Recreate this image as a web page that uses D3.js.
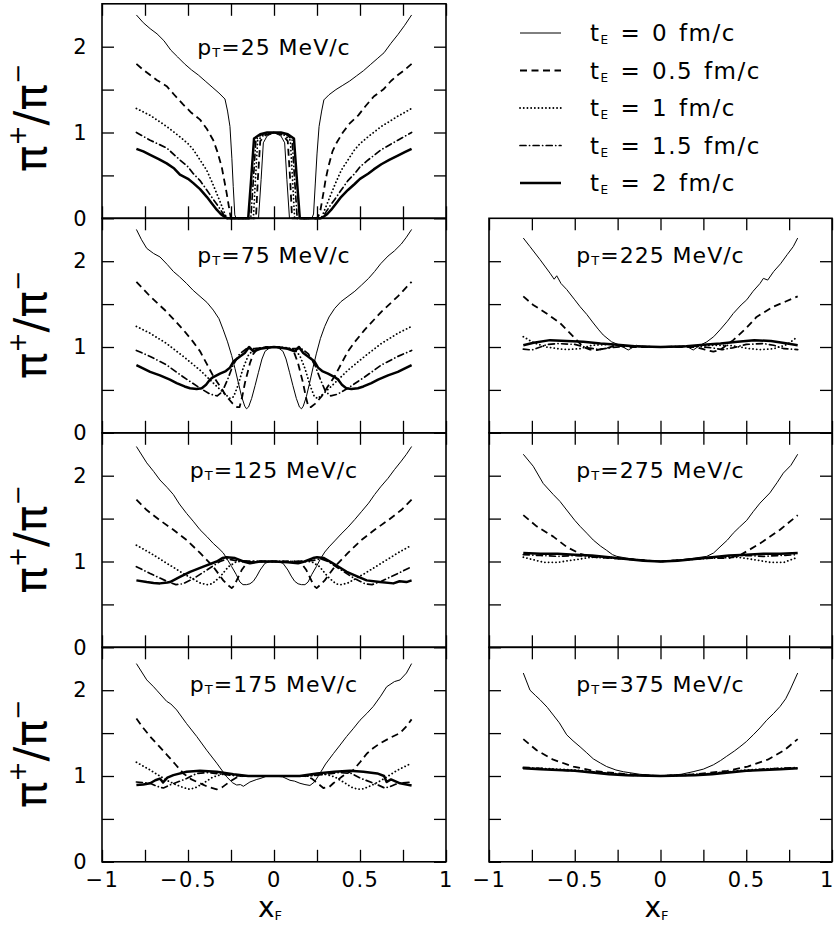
<!DOCTYPE html>
<html>
<head>
<meta charset="utf-8">
<script src="https://cdn.jsdelivr.net/npm/d3@7"></script>
<style>
  body { margin: 0; background: #fff; }
  svg { display: block; font-family: "DejaVu Sans", sans-serif; }
</style>
</head>
<body>
<svg id="chart" width="834" height="925"></svg>
<script>
// ---- data: pi+/pi- ratio vs x_F, one array per (pT, tE) ----
var tE = ['0', '0.5', '1', '1.5', '2'];
var ptLabels = ['25', '75', '125', '175', '225', '275', '375'];
var xMajor = [-1, -0.5, 0, 0.5, 1];
var xMajorLabels = ['\u22121', '\u22120.5', '0', '0.5', '1'];
var xMinor = [-0.75, -0.25, 0.25, 0.75];
var yMajor = [0, 1, 2];
var yMajorLabels = ['0', '1', '2'];
var yMinor = [0.5, 1.5];

var pt25_t0 = [[-0.8,2.37],[-0.76,2.28],[-0.72,2.21],[-0.68,2.15],[-0.64,2.07],[-0.6,1.96],[-0.56,1.88],[-0.52,1.8],[-0.48,1.73],[-0.44,1.67],[-0.4,1.6],[-0.36,1.53],[-0.32,1.46],[-0.285,1.39],[-0.27,1.25],[-0.256,1.07],[-0.245,0.7],[-0.237,0.37],[-0.228,0.04],[-0.22,0],[-0.09,0],[-0.075,0.45],[-0.062,0.88],[-0.04,0.96],[0,1.0],[0.04,0.96],[0.062,0.88],[0.075,0.45],[0.09,0],[0.22,0],[0.23,0.05],[0.24,0.4],[0.25,0.75],[0.262,1.07],[0.277,1.25],[0.29,1.38],[0.32,1.44],[0.36,1.5],[0.4,1.55],[0.44,1.6],[0.48,1.66],[0.52,1.72],[0.56,1.79],[0.6,1.86],[0.64,1.93],[0.68,2.04],[0.72,2.14],[0.76,2.25],[0.8,2.37]];
var pt25_t05 = [[-0.8,1.8],[-0.76,1.73],[-0.72,1.67],[-0.68,1.61],[-0.624,1.54],[-0.58,1.44],[-0.53,1.33],[-0.48,1.23],[-0.43,1.15],[-0.39,1.04],[-0.353,0.91],[-0.33,0.78],[-0.304,0.6],[-0.29,0.45],[-0.275,0.29],[-0.256,0.06],[-0.25,0],[-0.105,0],[-0.094,0.45],[-0.08,0.9],[-0.05,0.97],[0,1.0],[0.05,0.97],[0.08,0.9],[0.094,0.45],[0.105,0],[0.25,0],[0.267,0.06],[0.287,0.29],[0.3,0.45],[0.316,0.6],[0.34,0.78],[0.364,0.88],[0.4,1.0],[0.442,1.11],[0.49,1.2],[0.529,1.3],[0.58,1.42],[0.635,1.5],[0.68,1.6],[0.72,1.67],[0.76,1.73],[0.8,1.8]];
var pt25_t1 = [[-0.8,1.28],[-0.72,1.2],[-0.624,1.07],[-0.547,0.95],[-0.5,0.87],[-0.469,0.8],[-0.43,0.68],[-0.391,0.56],[-0.36,0.42],[-0.333,0.29],[-0.295,0.1],[-0.275,0],[-0.12,0],[-0.108,0.45],[-0.095,0.91],[-0.06,0.97],[0,1.0],[0.06,0.97],[0.095,0.91],[0.108,0.45],[0.12,0],[0.275,0],[0.295,0.1],[0.333,0.29],[0.36,0.42],[0.391,0.56],[0.43,0.68],[0.469,0.8],[0.5,0.87],[0.547,0.95],[0.624,1.07],[0.72,1.19],[0.8,1.28]];
var pt25_t15 = [[-0.8,1.0],[-0.72,0.91],[-0.624,0.82],[-0.547,0.68],[-0.5,0.6],[-0.469,0.52],[-0.43,0.44],[-0.391,0.33],[-0.353,0.22],[-0.324,0.14],[-0.295,0.05],[-0.28,0],[-0.135,0],[-0.12,0.45],[-0.105,0.92],[-0.07,0.98],[0,1.0],[0.07,0.98],[0.105,0.92],[0.12,0.45],[0.135,0],[0.28,0],[0.295,0.05],[0.324,0.14],[0.353,0.22],[0.391,0.33],[0.43,0.44],[0.469,0.52],[0.5,0.6],[0.547,0.68],[0.624,0.8],[0.72,0.91],[0.8,1.0]];
var pt25_t2 = [[-0.8,0.81],[-0.76,0.78],[-0.72,0.74],[-0.67,0.69],[-0.624,0.64],[-0.58,0.58],[-0.547,0.51],[-0.5,0.46],[-0.469,0.41],[-0.43,0.34],[-0.391,0.25],[-0.36,0.17],[-0.333,0.1],[-0.31,0.05],[-0.29,0.02],[-0.27,0],[-0.15,0],[-0.133,0.45],[-0.116,0.93],[-0.08,0.98],[-0.04,1.0],[0,1.0],[0.04,1.0],[0.08,0.98],[0.116,0.93],[0.133,0.45],[0.15,0],[0.27,0],[0.29,0.02],[0.31,0.05],[0.333,0.1],[0.36,0.17],[0.391,0.25],[0.43,0.33],[0.469,0.4],[0.5,0.46],[0.547,0.52],[0.58,0.57],[0.624,0.63],[0.67,0.68],[0.72,0.73],[0.76,0.77],[0.8,0.81]];

var pt75_t0 = [[-0.8,2.37],[-0.77,2.25],[-0.74,2.15],[-0.7,2.09],[-0.663,2.05],[-0.62,1.96],[-0.585,1.88],[-0.55,1.82],[-0.508,1.74],[-0.47,1.66],[-0.43,1.59],[-0.39,1.52],[-0.353,1.43],[-0.32,1.33],[-0.295,1.2],[-0.27,1.06],[-0.246,0.9],[-0.227,0.75],[-0.207,0.58],[-0.188,0.42],[-0.17,0.31],[-0.16,0.28],[-0.148,0.3],[-0.13,0.4],[-0.11,0.55],[-0.091,0.7],[-0.07,0.86],[-0.052,0.95],[-0.025,0.99],[0,1.0],[0.025,0.99],[0.052,0.95],[0.07,0.86],[0.091,0.7],[0.11,0.55],[0.13,0.4],[0.148,0.3],[0.16,0.28],[0.17,0.31],[0.188,0.42],[0.207,0.58],[0.227,0.76],[0.246,0.92],[0.27,1.1],[0.295,1.24],[0.32,1.35],[0.353,1.45],[0.39,1.53],[0.43,1.59],[0.47,1.65],[0.508,1.72],[0.55,1.8],[0.585,1.88],[0.62,1.97],[0.663,2.06],[0.7,2.12],[0.74,2.2],[0.77,2.28],[0.8,2.37]];
var pt75_t05 = [[-0.8,1.76],[-0.72,1.59],[-0.624,1.41],[-0.527,1.2],[-0.47,1.06],[-0.43,0.95],[-0.39,0.8],[-0.353,0.66],[-0.31,0.53],[-0.275,0.42],[-0.24,0.34],[-0.215,0.3],[-0.2,0.3],[-0.185,0.42],[-0.169,0.58],[-0.14,0.81],[-0.12,0.92],[-0.1,0.97],[-0.05,1.0],[0,1.0],[0.05,1.0],[0.1,0.97],[0.12,0.92],[0.14,0.81],[0.169,0.58],[0.185,0.42],[0.2,0.3],[0.215,0.3],[0.24,0.34],[0.275,0.42],[0.31,0.53],[0.353,0.66],[0.39,0.8],[0.43,0.95],[0.47,1.06],[0.527,1.2],[0.624,1.41],[0.72,1.59],[0.8,1.76]];
var pt75_t1 = [[-0.8,1.24],[-0.72,1.16],[-0.624,1.04],[-0.527,0.89],[-0.43,0.73],[-0.353,0.58],[-0.29,0.46],[-0.255,0.4],[-0.235,0.42],[-0.21,0.55],[-0.18,0.75],[-0.15,0.9],[-0.12,0.97],[-0.08,0.99],[0,1.0],[0.08,0.99],[0.12,0.97],[0.15,0.9],[0.18,0.75],[0.21,0.55],[0.235,0.42],[0.255,0.4],[0.29,0.46],[0.353,0.58],[0.43,0.73],[0.527,0.89],[0.624,1.04],[0.72,1.16],[0.8,1.24]];
var pt75_t15 = [[-0.8,0.96],[-0.72,0.89],[-0.624,0.79],[-0.527,0.65],[-0.43,0.52],[-0.37,0.45],[-0.33,0.43],[-0.3,0.48],[-0.27,0.62],[-0.24,0.78],[-0.2,0.92],[-0.16,0.98],[-0.12,0.98],[-0.06,0.99],[0,1.0],[0.06,0.99],[0.12,0.98],[0.16,0.98],[0.2,0.92],[0.24,0.78],[0.27,0.62],[0.3,0.48],[0.33,0.43],[0.37,0.45],[0.43,0.52],[0.527,0.65],[0.624,0.79],[0.72,0.89],[0.8,0.96]];
var pt75_t2 = [[-0.8,0.79],[-0.72,0.71],[-0.663,0.67],[-0.605,0.62],[-0.566,0.58],[-0.52,0.54],[-0.488,0.52],[-0.45,0.51],[-0.42,0.52],[-0.395,0.56],[-0.372,0.62],[-0.353,0.65],[-0.314,0.69],[-0.28,0.72],[-0.256,0.76],[-0.236,0.83],[-0.217,0.86],[-0.198,0.89],[-0.17,0.93],[-0.145,1.0],[-0.12,0.95],[-0.08,0.98],[-0.04,0.99],[0,1.0],[0.04,0.99],[0.08,0.98],[0.12,0.95],[0.145,1.0],[0.17,0.93],[0.198,0.89],[0.217,0.86],[0.236,0.83],[0.256,0.76],[0.28,0.72],[0.314,0.69],[0.353,0.65],[0.372,0.62],[0.395,0.56],[0.42,0.52],[0.45,0.51],[0.488,0.52],[0.52,0.54],[0.566,0.58],[0.605,0.62],[0.663,0.67],[0.72,0.71],[0.8,0.79]];

var pt125_t0 = [[-0.8,2.34],[-0.74,2.15],[-0.7,2.05],[-0.663,1.95],[-0.62,1.86],[-0.585,1.78],[-0.55,1.67],[-0.508,1.56],[-0.47,1.47],[-0.43,1.37],[-0.39,1.29],[-0.353,1.21],[-0.32,1.15],[-0.295,1.1],[-0.27,1.02],[-0.246,0.94],[-0.22,0.85],[-0.198,0.76],[-0.18,0.73],[-0.16,0.73],[-0.14,0.74],[-0.12,0.77],[-0.1,0.83],[-0.081,0.9],[-0.052,0.98],[-0.02,1.0],[0,1.0],[0.02,1.0],[0.052,0.98],[0.081,0.9],[0.1,0.83],[0.12,0.77],[0.14,0.74],[0.16,0.73],[0.18,0.73],[0.198,0.76],[0.22,0.85],[0.246,0.94],[0.27,1.03],[0.295,1.11],[0.32,1.17],[0.353,1.24],[0.39,1.32],[0.43,1.4],[0.47,1.49],[0.508,1.58],[0.55,1.68],[0.585,1.78],[0.62,1.87],[0.663,1.97],[0.7,2.07],[0.74,2.17],[0.77,2.25],[0.8,2.34]];
var pt125_t05 = [[-0.8,1.72],[-0.74,1.6],[-0.663,1.48],[-0.585,1.37],[-0.508,1.25],[-0.43,1.1],[-0.353,0.94],[-0.295,0.78],[-0.265,0.72],[-0.246,0.69],[-0.23,0.72],[-0.217,0.78],[-0.188,0.9],[-0.159,0.98],[-0.12,1.0],[-0.06,1.0],[0,1.0],[0.06,1.0],[0.12,1.0],[0.159,0.98],[0.188,0.9],[0.217,0.78],[0.23,0.72],[0.248,0.69],[0.265,0.72],[0.295,0.78],[0.353,0.94],[0.43,1.1],[0.508,1.25],[0.585,1.37],[0.663,1.48],[0.74,1.6],[0.8,1.72]];
var pt125_t1 = [[-0.8,1.19],[-0.72,1.1],[-0.624,0.98],[-0.527,0.86],[-0.43,0.75],[-0.39,0.73],[-0.36,0.74],[-0.314,0.82],[-0.265,0.94],[-0.217,1.0],[-0.15,1.0],[0,1.0],[0.15,1.0],[0.217,1.0],[0.265,0.94],[0.314,0.82],[0.36,0.74],[0.39,0.73],[0.43,0.75],[0.527,0.86],[0.624,0.98],[0.72,1.1],[0.8,1.19]];
var pt125_t15 = [[-0.8,0.94],[-0.72,0.86],[-0.624,0.77],[-0.57,0.73],[-0.53,0.74],[-0.469,0.8],[-0.391,0.9],[-0.314,1.0],[-0.275,1.03],[-0.22,1.01],[-0.1,1.0],[0,1.0],[0.1,1.0],[0.22,1.01],[0.275,1.03],[0.314,1.0],[0.391,0.9],[0.469,0.8],[0.53,0.74],[0.57,0.73],[0.624,0.77],[0.72,0.86],[0.8,0.94]];
var pt125_t2 = [[-0.8,0.78],[-0.74,0.76],[-0.7,0.75],[-0.663,0.745],[-0.62,0.755],[-0.605,0.76],[-0.547,0.82],[-0.488,0.88],[-0.411,0.94],[-0.333,1.0],[-0.3,1.04],[-0.275,1.05],[-0.227,1.04],[-0.178,1.0],[-0.14,0.98],[-0.081,1.0],[0,1.0],[0.081,0.99],[0.14,0.98],[0.178,1.0],[0.227,1.04],[0.25,1.05],[0.29,1.04],[0.333,0.99],[0.423,0.88],[0.48,0.83],[0.539,0.78],[0.616,0.76],[0.694,0.745],[0.73,0.77],[0.77,0.76],[0.8,0.78]];

var pt175_t0 = [[-0.8,2.31],[-0.74,2.12],[-0.7,2.04],[-0.682,2.0],[-0.624,1.87],[-0.6,1.84],[-0.566,1.77],[-0.508,1.61],[-0.449,1.46],[-0.391,1.3],[-0.333,1.15],[-0.275,0.99],[-0.24,0.92],[-0.217,0.895],[-0.195,0.9],[-0.178,0.88],[-0.14,0.93],[-0.1,0.96],[-0.081,0.97],[-0.04,1.0],[0,1.0],[0.05,0.99],[0.093,0.95],[0.12,0.94],[0.151,0.915],[0.18,0.9],[0.209,0.89],[0.235,0.93],[0.267,1.03],[0.3,1.14],[0.345,1.26],[0.38,1.35],[0.422,1.46],[0.46,1.55],[0.5,1.65],[0.54,1.73],[0.577,1.81],[0.62,1.93],[0.655,2.04],[0.7,2.1],[0.733,2.12],[0.77,2.2],[0.8,2.31]];
var pt175_t05 = [[-0.8,1.67],[-0.76,1.56],[-0.72,1.46],[-0.67,1.35],[-0.624,1.25],[-0.575,1.14],[-0.527,1.03],[-0.48,0.96],[-0.43,0.915],[-0.38,0.87],[-0.333,0.845],[-0.3,0.87],[-0.26,0.93],[-0.22,0.98],[-0.18,1.0],[0,1.0],[0.18,1.0],[0.22,0.97],[0.25,0.92],[0.287,0.86],[0.32,0.87],[0.345,0.915],[0.4,1.0],[0.461,1.07],[0.5,1.16],[0.539,1.26],[0.58,1.33],[0.616,1.38],[0.68,1.45],[0.733,1.5],[0.77,1.58],[0.8,1.66]];
var pt175_t1 = [[-0.8,1.16],[-0.72,1.07],[-0.624,0.95],[-0.566,0.895],[-0.52,0.86],[-0.488,0.845],[-0.45,0.87],[-0.411,0.915],[-0.353,0.99],[-0.3,1.02],[-0.2,1.0],[0,1.0],[0.2,1.0],[0.3,1.02],[0.353,0.99],[0.411,0.92],[0.45,0.87],[0.488,0.845],[0.52,0.85],[0.566,0.89],[0.624,0.95],[0.72,1.07],[0.8,1.15]];
var pt175_t15 = [[-0.8,0.93],[-0.72,0.915],[-0.68,0.88],[-0.643,0.86],[-0.6,0.9],[-0.508,0.97],[-0.45,1.03],[-0.38,1.04],[-0.3,1.02],[-0.2,1.0],[0,1.0],[0.2,1.0],[0.3,1.02],[0.38,1.04],[0.45,1.03],[0.508,0.97],[0.6,0.9],[0.643,0.86],[0.68,0.88],[0.72,0.915],[0.8,0.93]];
var pt175_t2 = [[-0.8,0.895],[-0.76,0.9],[-0.72,0.915],[-0.69,0.95],[-0.663,0.97],[-0.645,0.925],[-0.62,0.98],[-0.585,1.01],[-0.508,1.05],[-0.43,1.06],[-0.333,1.05],[-0.236,1.02],[-0.15,1.0],[0,1.0],[0.15,1.0],[0.25,1.03],[0.35,1.05],[0.442,1.06],[0.52,1.05],[0.6,1.03],[0.64,1.0],[0.655,0.93],[0.68,0.96],[0.733,0.915],[0.8,0.89]];

var pt225_t0 = [[-0.8,2.27],[-0.761,2.17],[-0.703,2.02],[-0.644,1.86],[-0.62,1.79],[-0.605,1.83],[-0.58,1.74],[-0.547,1.67],[-0.5,1.55],[-0.469,1.47],[-0.43,1.38],[-0.392,1.28],[-0.36,1.2],[-0.334,1.14],[-0.285,1.06],[-0.236,1.02],[-0.188,0.965],[-0.14,1.02],[-0.1,1.0],[0,1.0],[0.1,1.0],[0.15,1.01],[0.191,0.965],[0.23,1.02],[0.27,1.06],[0.31,1.12],[0.347,1.2],[0.39,1.3],[0.424,1.39],[0.47,1.49],[0.503,1.55],[0.54,1.65],[0.58,1.74],[0.6,1.8],[0.625,1.78],[0.66,1.88],[0.7,1.97],[0.74,2.08],[0.774,2.17],[0.8,2.27]];
var pt225_t05 = [[-0.8,1.59],[-0.742,1.49],[-0.664,1.39],[-0.586,1.28],[-0.508,1.12],[-0.45,1.0],[-0.41,0.97],[-0.372,0.965],[-0.314,0.985],[-0.26,1.02],[-0.2,1.0],[0,1.0],[0.2,1.0],[0.26,0.97],[0.308,0.945],[0.35,0.97],[0.424,1.08],[0.5,1.22],[0.56,1.35],[0.658,1.47],[0.73,1.53],[0.8,1.59]];
var pt225_t1 = [[-0.8,1.12],[-0.74,1.05],[-0.664,1.0],[-0.6,0.98],[-0.547,0.97],[-0.47,0.98],[-0.4,1.02],[-0.3,1.03],[-0.2,1.01],[0,1.0],[0.2,1.01],[0.3,1.02],[0.4,1.02],[0.46,1.0],[0.52,0.98],[0.58,0.97],[0.66,0.98],[0.74,1.03],[0.8,1.12]];
var pt225_t15 = [[-0.8,0.975],[-0.75,0.965],[-0.7,1.0],[-0.66,1.03],[-0.6,1.04],[-0.5,1.03],[-0.42,0.99],[-0.36,0.97],[-0.3,0.99],[-0.2,1.01],[0,1.0],[0.2,1.01],[0.3,0.99],[0.36,0.97],[0.42,0.99],[0.5,1.03],[0.6,1.04],[0.66,1.02],[0.72,0.98],[0.8,0.97]];
var pt225_t2 = [[-0.8,1.02],[-0.74,1.05],[-0.644,1.08],[-0.547,1.07],[-0.45,1.06],[-0.35,1.04],[-0.27,1.03],[-0.15,1.01],[0,1.0],[0.15,1.01],[0.27,1.03],[0.35,1.04],[0.45,1.06],[0.547,1.08],[0.644,1.07],[0.74,1.04],[0.8,1.02]];

var pt275_t0 = [[-0.8,2.25],[-0.742,2.11],[-0.684,1.91],[-0.625,1.78],[-0.586,1.7],[-0.547,1.6],[-0.5,1.48],[-0.469,1.41],[-0.43,1.33],[-0.392,1.25],[-0.35,1.18],[-0.314,1.13],[-0.28,1.08],[-0.255,1.06],[-0.2,1.04],[-0.12,1.02],[0,1.0],[0.12,1.02],[0.2,1.04],[0.27,1.06],[0.31,1.1],[0.347,1.17],[0.39,1.25],[0.424,1.33],[0.46,1.4],[0.503,1.48],[0.54,1.58],[0.58,1.68],[0.638,1.8],[0.68,1.92],[0.716,2.03],[0.76,2.12],[0.8,2.25]];
var pt275_t05 = [[-0.8,1.54],[-0.722,1.41],[-0.625,1.29],[-0.547,1.17],[-0.47,1.09],[-0.39,1.05],[-0.3,1.04],[-0.2,1.03],[0,1.0],[0.2,1.03],[0.3,1.04],[0.4,1.04],[0.47,1.08],[0.58,1.21],[0.697,1.37],[0.8,1.54]];
var pt275_t1 = [[-0.8,1.05],[-0.74,1.02],[-0.68,0.99],[-0.6,0.99],[-0.5,1.02],[-0.4,1.05],[-0.3,1.04],[-0.15,1.02],[0,1.0],[0.15,1.02],[0.3,1.04],[0.45,1.05],[0.55,1.02],[0.64,0.99],[0.72,0.99],[0.8,1.05]];
var pt275_t15 = [[-0.8,1.08],[-0.7,1.07],[-0.6,1.06],[-0.5,1.07],[-0.4,1.06],[-0.3,1.05],[-0.15,1.02],[0,1.0],[0.15,1.02],[0.3,1.05],[0.4,1.06],[0.5,1.07],[0.6,1.06],[0.7,1.07],[0.8,1.08]];
var pt275_t2 = [[-0.8,1.1],[-0.7,1.09],[-0.6,1.09],[-0.5,1.08],[-0.4,1.07],[-0.3,1.05],[-0.2,1.03],[-0.1,1.01],[0,1.0],[0.1,1.01],[0.2,1.03],[0.3,1.05],[0.4,1.07],[0.5,1.08],[0.6,1.09],[0.7,1.09],[0.8,1.1]];

var pt375_t0 = [[-0.8,2.2],[-0.761,2.0],[-0.73,1.94],[-0.703,1.89],[-0.66,1.8],[-0.625,1.71],[-0.59,1.62],[-0.547,1.48],[-0.51,1.41],[-0.469,1.34],[-0.43,1.27],[-0.392,1.2],[-0.35,1.15],[-0.314,1.11],[-0.26,1.07],[-0.217,1.05],[-0.12,1.02],[0,1.0],[0.12,1.02],[0.19,1.05],[0.25,1.08],[0.308,1.13],[0.35,1.18],[0.386,1.23],[0.43,1.29],[0.463,1.34],[0.5,1.4],[0.541,1.48],[0.58,1.56],[0.619,1.65],[0.66,1.73],[0.697,1.81],[0.73,1.9],[0.755,2.0],[0.8,2.2]];
var pt375_t05 = [[-0.8,1.43],[-0.722,1.3],[-0.625,1.19],[-0.508,1.11],[-0.39,1.06],[-0.2,1.02],[0,1.0],[0.2,1.02],[0.39,1.06],[0.508,1.11],[0.625,1.19],[0.722,1.3],[0.8,1.43]];
var pt375_t1 = [[-0.8,1.09],[-0.7,1.09],[-0.6,1.08],[-0.5,1.07],[-0.4,1.05],[-0.3,1.03],[-0.2,1.02],[0,1.0],[0.2,1.02],[0.3,1.03],[0.4,1.05],[0.5,1.07],[0.6,1.08],[0.7,1.09],[0.8,1.09]];
var pt375_t15 = [[-0.8,1.1],[-0.7,1.09],[-0.6,1.07],[-0.5,1.06],[-0.4,1.05],[-0.3,1.03],[-0.2,1.01],[0,1.0],[0.2,1.01],[0.3,1.03],[0.4,1.05],[0.5,1.06],[0.6,1.08],[0.7,1.09],[0.8,1.1]];
var pt375_t2 = [[-0.8,1.09],[-0.7,1.08],[-0.6,1.07],[-0.5,1.06],[-0.4,1.04],[-0.3,1.02],[-0.2,1.01],[0,1.0],[0.2,1.01],[0.3,1.02],[0.4,1.04],[0.5,1.06],[0.6,1.07],[0.7,1.08],[0.8,1.09]];

// panel layout: column 0 = left, 1 = right; row 0 at top
var panels = [
  {pt: ptLabels[0], col: 0, row: 0, series: [pt25_t0, pt25_t05, pt25_t1, pt25_t15, pt25_t2]},
  {pt: ptLabels[1], col: 0, row: 1, series: [pt75_t0, pt75_t05, pt75_t1, pt75_t15, pt75_t2]},
  {pt: ptLabels[2], col: 0, row: 2, series: [pt125_t0, pt125_t05, pt125_t1, pt125_t15, pt125_t2]},
  {pt: ptLabels[3], col: 0, row: 3, series: [pt175_t0, pt175_t05, pt175_t1, pt175_t15, pt175_t2]},
  {pt: ptLabels[4], col: 1, row: 1, series: [pt225_t0, pt225_t05, pt225_t1, pt225_t15, pt225_t2]},
  {pt: ptLabels[5], col: 1, row: 2, series: [pt275_t0, pt275_t05, pt275_t1, pt275_t15, pt275_t2]},
  {pt: ptLabels[6], col: 1, row: 3, series: [pt375_t0, pt375_t05, pt375_t1, pt375_t15, pt375_t2]}
];

// line styles, same order as tE
var styles = [
  {w: 1.0, dash: null, cap: 'butt'},
  {w: 1.8, dash: '7,4.5', cap: 'butt'},
  {w: 1.8, dash: '0.1,3.6', cap: 'round'},
  {w: 1.7, dash: '6,3.5,0.1,3.5', cap: 'round'},
  {w: 2.5, dash: null, cap: 'butt'}
];

var svg = d3.select('#chart');
var colX = [[102, 446], [489, 832]];
var rowH = 214.5, firstBottom = 218.3;
var titleBottom = [172, 379, 593.5, 808];

function styleAxis(g) {
  g.select('.domain').remove();
  g.selectAll('.tick line').attr('stroke', '#000').attr('stroke-width', 1.3);
  g.selectAll('.tick text').attr('fill', '#000').attr('font-size', 21)
    .attr('font-family', '"DejaVu Sans", sans-serif');
}

panels.forEach(function(p) {
  var xr = colX[p.col];
  var yb = firstBottom + rowH * p.row;
  var x = d3.scaleLinear().domain([-1, 1]).range(xr);
  var y = d3.scaleLinear().domain([0, 2.5]).range([yb, yb - rowH]);
  var g = svg.append('g').attr('class', 'panel');
  var bottomRow = p.row === 3;

  var line = d3.line().x(function(d) { return x(d[0]); }).y(function(d) { return y(d[1]); });

  g.selectAll('path.curve')
    .data(p.series)
    .enter().append('path')
    .attr('class', 'curve')
    .attr('d', line)
    .attr('fill', 'none')
    .attr('stroke', '#000')
    .attr('stroke-width', function(d, i) { return styles[i].w; })
    .attr('stroke-dasharray', function(d, i) { return styles[i].dash; })
    .attr('stroke-linecap', function(d, i) { return styles[i].cap; })
    .attr('stroke-linejoin', 'round');

  // ticks on all four sides, pointing inward
  var bx = g.append('g').attr('transform', 'translate(0,' + yb + ')')
    .call(d3.axisBottom(x).tickValues(xMajor).tickSize(-12).tickSizeOuter(0).tickPadding(10)
      .tickFormat(function(d, i) { return bottomRow ? xMajorLabels[i] : ''; }))
    .call(styleAxis);
  bx.selectAll('.tick text')
    .attr('letter-spacing', 1.5)
    .attr('dx', function(d) { return p.col === 1 && d === 1 ? -5 : 0; });
  g.append('g').attr('transform', 'translate(0,' + yb + ')')
    .call(d3.axisBottom(x).tickValues(xMinor).tickSize(-12).tickSizeOuter(0).tickFormat(''))
    .call(styleAxis);
  g.append('g').attr('transform', 'translate(0,' + (yb - rowH) + ')')
    .call(d3.axisTop(x).tickValues(xMajor.concat(xMinor)).tickSize(-12).tickSizeOuter(0).tickFormat(''))
    .call(styleAxis);
  g.append('g').attr('transform', 'translate(' + xr[0] + ',0)')
    .call(d3.axisLeft(y).tickValues(yMajor).tickSize(-12).tickSizeOuter(0)
      .tickFormat(function(d, i) { return p.col === 0 ? yMajorLabels[i] : ''; }))
    .call(styleAxis)
    .selectAll('.tick text').attr('text-anchor', 'middle').attr('x', -22);
  g.append('g').attr('transform', 'translate(' + xr[0] + ',0)')
    .call(d3.axisLeft(y).tickValues(yMinor).tickSize(-12).tickSizeOuter(0).tickFormat(''))
    .call(styleAxis);
  g.append('g').attr('transform', 'translate(' + xr[1] + ',0)')
    .call(d3.axisRight(y).tickValues(yMajor.concat(yMinor)).tickSize(-12).tickSizeOuter(0).tickFormat(''))
    .call(styleAxis);

  // frame
  g.append('rect')
    .attr('x', xr[0]).attr('y', yb - rowH)
    .attr('width', xr[1] - xr[0]).attr('height', rowH)
    .attr('fill', 'none').attr('stroke', '#000').attr('stroke-width', 1.6);

  // pT label
  var lab = g.append('text')
    .attr('x', (xr[0] + xr[1]) / 2)
    .attr('y', yb - rowH + (p.row === 0 ? 51 : 45))
    .attr('text-anchor', 'middle')
    .attr('font-size', 22).attr('letter-spacing', 1);
  lab.append('tspan').text('p');
  lab.append('tspan').attr('font-size', 13).attr('dy', 2).text('T');
  lab.append('tspan').attr('dy', -2).text('=' + p.pt + ' MeV/c');

  // y title, left column only
  if (p.col === 0) {
    var t = svg.append('text')
      .attr('transform', 'translate(46,' + titleBottom[p.row] + ') rotate(-90)')
      .attr('font-size', 44);
    t.append('tspan').text('\u03c0');
    t.append('tspan').attr('font-size', 24).attr('dy', -20).text('+');
    t.append('tspan').attr('dy', 20).text('/\u03c0');
    t.append('tspan').attr('font-size', 24).attr('dy', -20).text('\u2212');
  }

  // x title, bottom row only
  if (bottomRow) {
    var xt = svg.append('text')
      .attr('x', (xr[0] + xr[1]) / 2 - 4).attr('y', 917)
      .attr('text-anchor', 'middle').attr('font-size', 28);
    xt.append('tspan').text('x');
    xt.append('tspan').attr('font-size', 13).attr('dy', 3).text('F');
  }
});

// legend in the empty top-right slot
var leg = svg.append('g').attr('class', 'legend');
tE.forEach(function(v, i) {
  var yy = 33 + 37.5 * i;
  leg.append('line')
    .attr('x1', 520).attr('x2', 561).attr('y1', yy).attr('y2', yy)
    .attr('stroke', '#000')
    .attr('stroke-width', styles[i].w)
    .attr('stroke-dasharray', styles[i].dash)
    .attr('stroke-linecap', styles[i].cap);
  var tx = leg.append('text').attr('x', 590).attr('y', yy + 8)
    .attr('font-size', 23).attr('letter-spacing', 1.5).attr('word-spacing', 2);
  tx.append('tspan').text('t');
  tx.append('tspan').attr('font-size', 12).attr('dy', 3).text('E');
  tx.append('tspan').attr('dy', -3).text(' = ' + v + ' fm/c');
});
</script>
</body>
</html>
